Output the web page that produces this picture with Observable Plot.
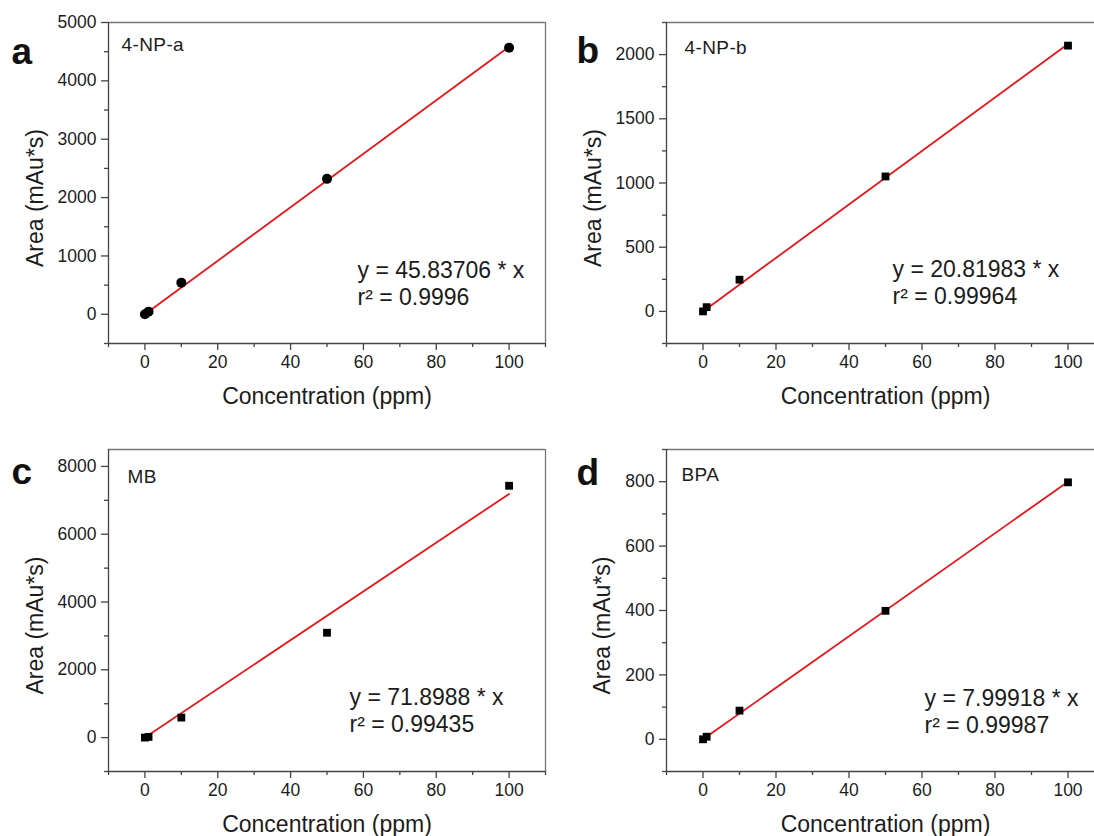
<!DOCTYPE html>
<html><head><meta charset="utf-8">
<script src="https://cdn.jsdelivr.net/npm/d3@7"></script>
<script src="https://cdn.jsdelivr.net/npm/@observablehq/plot@0.6"></script>
<style>
html,body{margin:0;padding:0;background:#fff;overflow:hidden;}
#fig{position:relative;width:1094px;height:836px;overflow:hidden;background:#fff;}
.panel{position:absolute;}
.panel svg{max-width:none !important;}
</style></head><body><div id="fig"></div>
<script>
// ---- data ----
const concentration = [0, 1, 10, 50, 100];
const area4NPa = [0, 46, 543, 2321, 4566];
const area4NPb = [0, 33, 247, 1051, 2070];
const areaMB   = [0, 20, 591, 3094, 7430];
const areaBPA  = [0, 8, 89, 399, 798];

const fitX = [0, 100];
const fit4NPa = [0, 4583.706];
const fit4NPb = [0, 2081.983];
const fitMB   = [0, 7189.88];
const fitBPA  = [0, 799.918];

const xMajor = [0, 20, 40, 60, 80, 100];
const xMinor = [-10, 10, 30, 50, 70, 90, 110];

const yMajorA = [0, 1000, 2000, 3000, 4000, 5000];
const yMinorA = [-500, 500, 1500, 2500, 3500, 4500];
const yMajorB = [0, 500, 1000, 1500, 2000];
const yMinorB = [-250, 250, 750, 1250, 1750, 2250];
const yMajorC = [0, 2000, 4000, 6000, 8000];
const yMinorC = [-1000, 1000, 3000, 5000, 7000];
const yMajorD = [0, 200, 400, 600, 800];
const yMinorD = [-100, 100, 300, 500, 700, 900];

const names = ["4-NP-a", "4-NP-b", "MB", "BPA"];
const letters = ["a", "b", "c", "d"];
const equations = [
  "y = 45.83706 * x\nr\u00B2 = 0.9996",
  "y = 20.81983 * x\nr\u00B2 = 0.99964",
  "y = 71.8988 * x\nr\u00B2 = 0.99435",
  "y = 7.99918 * x\nr\u00B2 = 0.99987"
];
const xTitle = "Concentration (ppm)";
const yTitle = "Area (mAu*s)";

// ---- drawing ----
const FONT = "'Liberation Sans', Arial, Helvetica, sans-serif";
const xDomain = [-10, 110];
const AX = "#444", BORDER = "#777", TXT = "#1c1c1c", RED = "#e8161b";

const panels = [
  {left: 0,   top: 0,   width: 547, height: 420, ml: 108, mt: 22, mb: 77,
   y: area4NPa, fit: fit4NPa, yDomain: [-500, 5000], yMajor: yMajorA, yMinor: yMinorA,
   symbol: "circle", r: 5, ytDx: -82,
   letterPos: [-97, 41], namePos: [13, 15], eqPos: [249, 236]},
  {left: 547, top: 0,   width: 559, height: 420, ml: 119, mt: 22, mb: 77,
   y: area4NPb, fit: fit4NPb, yDomain: [-250, 2250], yMajor: yMajorB, yMinor: yMinorB,
   symbol: "square", r: 4.4, ytDx: -82,
   letterPos: [-90, 40], namePos: [18, 18], eqPos: [226, 235]},
  {left: 0,   top: 420, width: 547, height: 416, ml: 108, mt: 29, mb: 65,
   y: areaMB, fit: fitMB, yDomain: [-1000, 8500], yMajor: yMajorC, yMinor: yMinorC,
   symbol: "square", r: 4.4, ytDx: -82,
   letterPos: [-97, 34], namePos: [19, 20], eqPos: [241, 236]},
  {left: 547, top: 420, width: 559, height: 416, ml: 119, mt: 29, mb: 65,
   y: areaBPA, fit: fitBPA, yDomain: [-100, 900], yMajor: yMajorD, yMinor: yMinorD,
   symbol: "square", r: 4.4, ytDx: -73,
   letterPos: [-90, 35], namePos: [15, 18], eqPos: [258, 237]}
];

const fig = document.getElementById("fig");

panels.forEach((p, i) => {
  const pts = concentration.map((x, j) => ({x, y: p.y[j]}));
  const fitPts = fitX.map((x, j) => ({x, y: p.fit[j]}));
  const svg = Plot.plot({
    width: p.width, height: p.height,
    marginLeft: p.ml, marginRight: 2, marginTop: p.mt, marginBottom: p.mb,
    style: {fontFamily: FONT, fontSize: "17.5px", color: TXT, background: "transparent", overflow: "visible", maxWidth: "none"},
    x: {domain: xDomain, label: null},
    y: {domain: p.yDomain, label: null},
    marks: [
      Plot.ruleY([p.yDomain[1]], {stroke: BORDER, strokeWidth: 1.3}),
      Plot.ruleX([xDomain[1]], {stroke: BORDER, strokeWidth: 1.3}),
      Plot.axisX({ticks: xMajor, tickSize: 7, tickPadding: 5, tickFormat: d => String(d),
                  stroke: AX, strokeWidth: 1.3, fill: TXT, fontSize: 17.5, label: null}),
      Plot.axisX({ticks: xMinor, tickSize: 4, stroke: AX, strokeWidth: 1.3, fill: "none", label: null}),
      Plot.axisY({ticks: p.yMajor, tickSize: 7, tickPadding: 5, tickFormat: d => String(d),
                  stroke: AX, strokeWidth: 1.3, fill: TXT, fontSize: 17.5, label: null}),
      Plot.axisY({ticks: p.yMinor, tickSize: 4, stroke: AX, strokeWidth: 1.3, fill: "none", label: null}),
      Plot.ruleX([xDomain[0]], {stroke: AX, strokeWidth: 1.3}),
      Plot.ruleY([p.yDomain[0]], {stroke: AX, strokeWidth: 1.3}),
      Plot.line(fitPts, {x: "x", y: "y", stroke: RED, strokeWidth: 1.8}),
      Plot.dot(pts, {x: "x", y: "y", symbol: p.symbol, r: p.r, fill: "#000"}),
      Plot.text([names[i]], {frameAnchor: "top-left", textAnchor: "start", lineAnchor: "top",
                  dx: p.namePos[0], dy: p.namePos[1], fontSize: 19, fill: TXT}),
      Plot.text([equations[i]], {frameAnchor: "top-left", textAnchor: "start", lineAnchor: "top",
                  lineHeight: 1.19, dx: p.eqPos[0], dy: p.eqPos[1], fontSize: 23, fill: TXT}),
      Plot.text([letters[i]], {frameAnchor: "top-left", textAnchor: "start", lineAnchor: "bottom",
                  dx: p.letterPos[0], dy: p.letterPos[1], fontSize: 37, fontWeight: "bold", fill: "#111"}),
      Plot.text([xTitle], {frameAnchor: "bottom", textAnchor: "middle", lineAnchor: "bottom", dy: 60, fontSize: 23, fill: TXT}),
      Plot.text([yTitle], {frameAnchor: "left", textAnchor: "middle", rotate: -90, lineAnchor: "top",
                  dx: p.ytDx, dy: 15, fontSize: 23, fill: TXT})
    ]
  });
  svg.style.maxWidth = "none";
  d3.select(svg).selectAll("g[aria-label='text']").each(function() {
    const fs = parseFloat(this.getAttribute("font-size"));
    if (fs === 19) this.style.letterSpacing = "0.4px";
  });
  const div = document.createElement("div");
  div.className = "panel";
  div.style.left = p.left + "px";
  div.style.top = p.top + "px";
  div.style.width = p.width + "px";
  div.appendChild(svg);
  fig.appendChild(div);
});
</script>
</body></html>
